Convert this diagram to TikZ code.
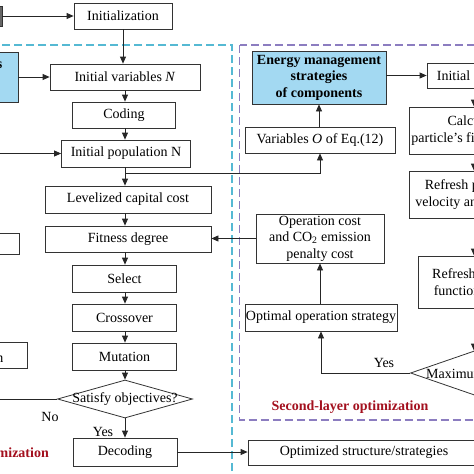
\documentclass[tikz,border=0pt]{standalone}
\usepackage{fontspec}
\setmainfont{Liberation Serif}
\usetikzlibrary{arrows.meta,shapes.geometric,calc}
\definecolor{boxblue}{HTML}{A3D9F2}
\definecolor{cyanline}{HTML}{55B9D3}
\definecolor{purpline}{HTML}{8C7DC0}
\definecolor{darkred}{HTML}{A3101E}
\begin{document}
\begin{tikzpicture}[x=1pt,y=-1pt,
 box/.style={draw=black!80, line width=0.8pt, rectangle, inner sep=0pt, font=\fontsize{14}{16.5}\selectfont, align=center},
 bbox/.style={box, fill=boxblue, font=\bfseries\fontsize{14}{16.5}\selectfont},
 diam/.style={draw=black!80, line width=0.8pt, diamond, inner sep=0pt},
 lbl/.style={font=\fontsize{14}{16.5}\selectfont, inner sep=0pt},
 arr/.style={draw=black!85, line width=0.8pt, -{Triangle[length=7pt,width=6pt]}},
 ln/.style={draw=black!85, line width=0.8pt},
 cyanframe/.style={draw=cyanline, line width=1.1pt, dash pattern=on 8pt off 4pt},
 purpframe/.style={draw=purpline, line width=1.1pt, dash pattern=on 8pt off 4pt},
 redtxt/.style={text=darkred, font=\bfseries\fontsize{14}{16.5}\selectfont, inner sep=0pt}]
\useasboundingbox (0,0) rectangle (474,474);
% frames
\draw[cyanframe] (-20,45) rectangle (232,600);
\draw[purpframe] (239.5,45) rectangle (600,420);
% left column
\node[box, fill=black!60, minimum width=40, minimum height=20] (prev) at (-18,16) {};
\node[box, minimum width=98, minimum height=26] (init) at (123,16) {Initialization};
\node[bbox, minimum width=60, minimum height=50] (bl) at (-12,77) {};
\node[anchor=base east, inner sep=0pt, font=\bfseries\fontsize{14}{16.5}\selectfont] (blt) at (2.5,68) {Component sizes};
\node[box, minimum width=150, minimum height=26] (iv) at (125,77) {Initial variables \textit{N}};
\node[box, minimum width=103, minimum height=26] (cod) at (124,115) {Coding};
\node[box, minimum width=129, minimum height=27] (ip) at (126,153.5) {Initial population N};
\node[box, minimum width=166, minimum height=27] (lcc) at (128,199.5) {Levelized capital cost};
\node[box, minimum width=166, minimum height=26] (fd) at (128,239) {Fitness degree};
\node[box, minimum width=80, minimum height=21] (lb2) at (-21,243.5) {};
\node[box, minimum width=104, minimum height=27] (sel) at (124.5,278.5) {Select};
\node[box, minimum width=104, minimum height=27] (cro) at (124.5,317.5) {Crossover};
\node[box, minimum width=104, minimum height=27] (mut) at (124.5,356.5) {Mutation};
\node[box, minimum width=80, minimum height=26] (lb3) at (-13,355) {};
\node[lbl, anchor=base east] (lb3t) at (3.5,362) {Termination};
\node[diam, minimum width=135, minimum height=38] (sat) at (125,399) {};
\node[lbl] (satt) at (sat) {Satisfy objectives?};
\coordinate (noend) at (0,399);
\node[lbl] (no) at (50,417) {No};
\node[lbl] (yes1) at (103,432) {Yes};
\node[box, minimum width=104, minimum height=28] (dec) at (125,452) {Decoding};
\node[box, minimum width=232, minimum height=25] (os) at (364,452.5) {Optimized structure/strategies};
\node[redtxt, anchor=east] (fl) at (49,454) {First-layer optimization};
% right part
\node[bbox, minimum width=134, minimum height=53] (em) at (319,77.5) {Energy management\\strategies\\of components};
\node[box, minimum width=94, minimum height=25] (ir) at (474,75.5) {Initial swarm};
\node[box, minimum width=150, minimum height=26] (vo) at (320,140) {Variables \textit{O} of Eq.(12)};
\node[box, minimum width=130, minimum height=47] (calc) at (474,130.5) {Calculate\\particle's fitness value};
\node[box, minimum width=130, minimum height=47] (rv) at (474,194.5) {Refresh particle's\\velocity and position};
\node[box, minimum width=112, minimum height=52] (rf) at (474,282) {Refresh fitness\\function value};
\node[box, minimum width=128, minimum height=49] (opc) at (320,238.5) {Operation cost\\and CO\textsubscript{2} emission\\penalty cost};
\node[box, minimum width=152, minimum height=27] (oos) at (321,317.5) {Optimal operation strategy};
\node[diam, minimum width=127, minimum height=44] (maxd) at (474,373) {};
\node[lbl, anchor=west] (maxt) at (426,374) {Maximum iteration?};
\node[lbl] (yes2) at (384,363) {Yes};
\node[redtxt] (sl) at (350,407) {Second-layer optimization};
% connectors
\coordinate (ipin) at (0,153.5);
\coordinate (j1) at (125,173);
\draw[arr] (prev.east) -- (init.west);
\draw[arr] (init.south) -- (init.south |- iv.north);
\draw[arr] (bl.east) -- (iv.west);
\draw[arr] (j1 |- iv.south) -- (j1 |- cod.north);
\draw[arr] (j1 |- cod.south) -- (j1 |- ip.north);
\draw[arr] (ipin) -- (ip.west);
\draw[arr] (j1 |- ip.south) -- (j1 |- lcc.north);
\draw[arr] (j1) -| (vo.south);
\draw[arr] (j1 |- lcc.south) -- (j1 |- fd.north);
\draw[arr] (j1 |- fd.south) -- (j1 |- sel.north);
\draw[arr] (j1 |- sel.south) -- (j1 |- cro.north);
\draw[arr] (j1 |- cro.south) -- (j1 |- mut.north);
\draw[arr] (j1 |- mut.south) -- (sat.north);
\draw[ln] (sat.west) -- (noend);
\draw[arr] (sat.south) -- (dec.north);
\draw[arr] (dec.east) -- (dec.east -| os.west);
\draw[arr] (em.south |- vo.north) -- (em.south);
\draw[arr] (em.east |- ir.west) -- (ir.west);
\draw[arr] (ir.south) -- (calc.north);
\draw[arr] (calc.south) -- (rv.north);
\draw[arr] (rv.south) -- (rf.north);
\draw[arr] (rf.south) -- (maxd.north);
\draw[arr] (maxd.west) -| (oos.south);
\draw[arr] (oos.north -| opc.south) -- (opc.south);
\draw[arr] (opc.west) -- (opc.west -| fd.east);
\end{tikzpicture}
\end{document}
